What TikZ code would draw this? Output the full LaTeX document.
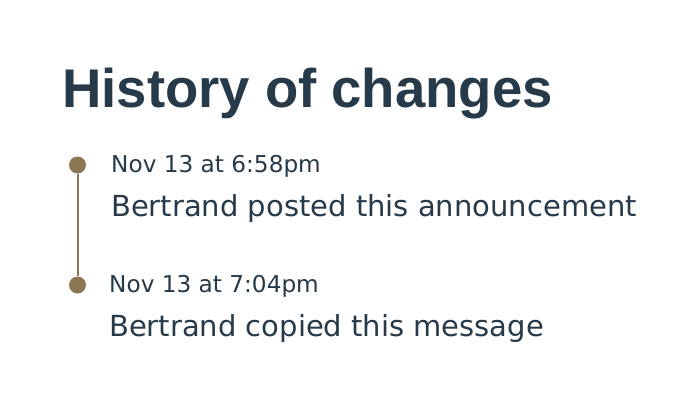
\documentclass[tikz,border=0pt]{standalone}
\usepackage{fontspec}
\setmainfont{Liberation Sans}
\newfontfamily\bodyfont{DejaVu Sans}
\definecolor{ink}{HTML}{263A4A}
\definecolor{tl}{HTML}{8B7653}
\begin{document}
\begin{tikzpicture}[x=1pt,y=-1pt,
  txt/.style={anchor=base west,inner sep=0pt,text=ink},
  title/.style={txt,font=\fontsize{54.5}{60}\selectfont\bfseries},
  date/.style={txt,font=\bodyfont\fontsize{23.2}{28}\selectfont},
  msg/.style={txt,font=\bodyfont\fontsize{29}{34}\selectfont},
  dot/.style={circle,fill=tl,inner sep=0pt,minimum size=17pt},
  link/.style={draw=tl,line width=2pt}]
\fill[white] (0,0) rectangle (697,408);
\useasboundingbox (0,0) rectangle (697,408);
\node[title] (t) at (62,107) {History of changes};
\node[dot] (d1) at (77.5,165) {};
\node[dot] (d2) at (77.5,285) {};
\draw[link] (d1) -- (d2);
\node[date] (a1) at (111,172) {Nov 13 at 6:58pm};
\node[msg] (m1) at (111,216) {Bertrand posted this announcement};
\node[date] (a2) at (109,292) {Nov 13 at 7:04pm};
\node[msg] (m2) at (109,336) {Bertrand copied this message};
\end{tikzpicture}
\end{document}
